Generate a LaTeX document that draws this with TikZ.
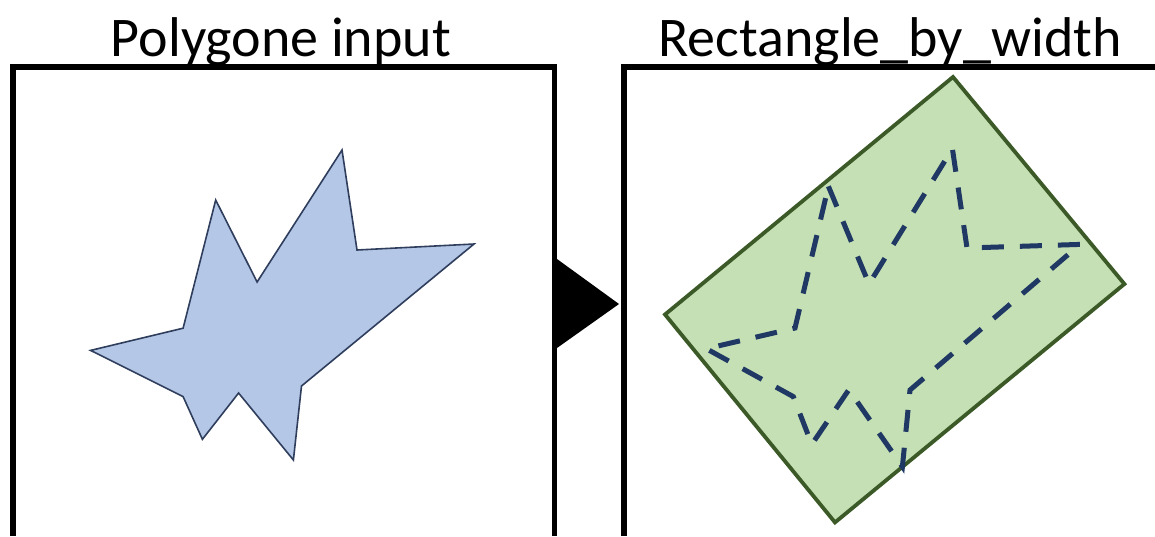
\documentclass[tikz,border=0pt]{standalone}
\usepackage{fontspec}
\setmainfont{Carlito}
\definecolor{polyfill}{HTML}{B4C7E7}
\definecolor{polyline}{HTML}{2F3E5C}
\definecolor{rectfill}{HTML}{C5E0B4}
\definecolor{rectline}{HTML}{3B5A27}
\definecolor{dashcol}{HTML}{1F3864}
\tikzset{
  panel/.style={line width=2.6pt, draw=black, line cap=butt, line join=miter},
  title/.style={anchor=base, inner sep=0pt, font=\fontsize{28}{30}\selectfont},
  poly/.style={fill=polyfill, draw=polyline, line width=0.8pt, line join=miter},
  bbox/.style={fill=rectfill, draw=rectline, line width=1.9pt, line join=miter},
  dashpoly/.style={draw=dashcol, line width=2.5pt, dash pattern=on 11pt off 8pt, line join=miter}
}
\begin{document}
\begin{tikzpicture}[x=0.5pt, y=-0.5pt]
\useasboundingbox (0,0) rectangle (1155,536);
% titles
\node[title] (t1) at (281,56) {Polygone input};
\node[title] (t2) at (890,56) {Rectangle\_by\_width};
% panels
\draw[panel] (13,536) -- (13,67) -- (554.5,67) -- (554.5,536);
\draw[panel] (624,536) -- (624,67) -- (1155,67);
% arrow triangle
\fill[black] (557,259) -- (619,304) -- (557,348) -- cycle;
% input polygon
\draw[poly] (342,150) -- (357,250) -- (474,244) -- (301.5,386) -- (293.4,460)
  -- (238.6,393) -- (202.4,439.3) -- (183.1,396.6) -- (90.6,350.4)
  -- (183.1,328.2) -- (215.7,200) -- (257.1,282) -- cycle;
% bounding rectangle
\draw[bbox] (953,77) -- (1124.4,284) -- (835,522.4) -- (665,314.5) -- cycle;
% dashed polygon
\draw[dashpoly] (828.4,186.3) -- (869,284) -- (952.4,148.7) -- (967,248)
  -- (1080,244.4) -- (910,390) -- (902.4,466.7) -- (848.8,389.7)
  -- (811.8,444.4) -- (793.3,396.6) -- (706.3,348.7) -- (795,328) -- cycle;
\end{tikzpicture}
\end{document}
